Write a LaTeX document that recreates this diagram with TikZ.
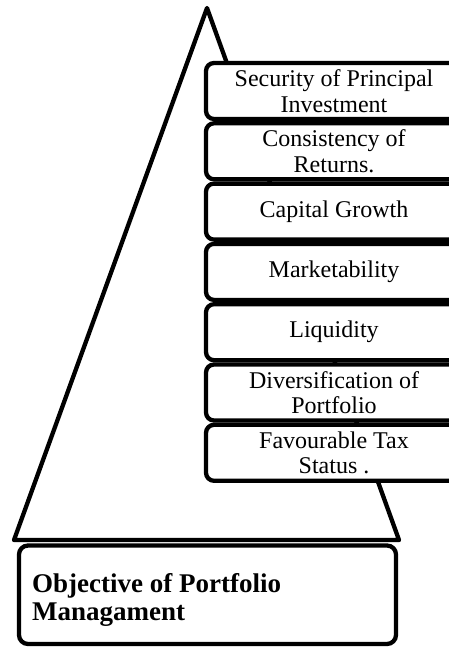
\documentclass[tikz,border=0pt]{standalone}
\usepackage{fontspec}
\setmainfont{Liberation Serif}
\begin{document}
\begin{tikzpicture}[x=1pt,y=-1pt,
  thickline/.style={line width=4.3pt,line join=round},
  objbox/.style={thickline,draw=black,fill=white,rounded corners=8pt,
    minimum width=256pt,minimum height=56pt,inner sep=0pt,align=center,
    font=\fontsize{24}{25.4}\selectfont},
  basebox/.style={thickline,draw=black,fill=white,rounded corners=9pt}]
\useasboundingbox (0,0) rectangle (448,647);
% triangle
\coordinate (apex) at (207,8);
\coordinate (bl) at (14,540);
\coordinate (br) at (399,540);
\draw[thickline] (apex) -- (br) -- (bl) -- cycle;
% boxes
\node[objbox] (b1) at (334,91) {Security of Principal\\Investment};
\node[objbox] (b2) at (334,151.3) {Consistency of\\Returns.};
\node[objbox] (b3) at (334,211.6) {Capital Growth};
\node[objbox] (b4) at (334,271.9) {Marketability};
\node[objbox] (b5) at (334,332.2) {Liquidity};
\node[objbox] (b6) at (334,392.5) {Diversification of\\Portfolio};
\node[objbox] (b7) at (334,452.8) {Favourable Tax\\Status .};
% base box
\draw[basebox] (19,545.5) rectangle (396,644);
\node[anchor=west,inner sep=0pt,align=left,font=\bfseries\fontsize{27}{28}\selectfont] (title) at (32,600) {Objective of Portfolio\\Managament};
\end{tikzpicture}
\end{document}
